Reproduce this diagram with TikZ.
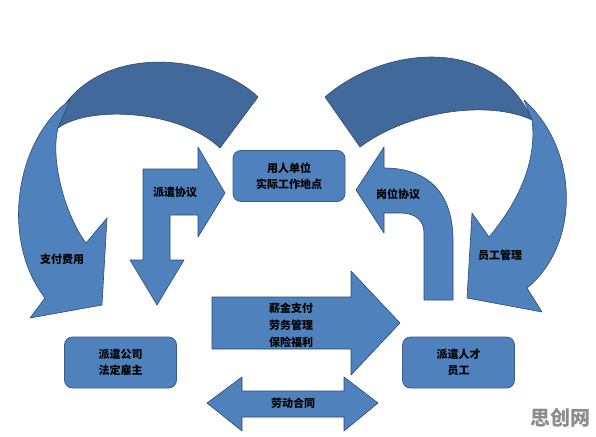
\documentclass[tikz,border=0pt]{standalone}
\usepackage{fontspec}
\setmainfont{Noto Sans CJK SC}
\definecolor{lightblue}{HTML}{4F81BD}
\definecolor{darkblue}{HTML}{41699B}
\definecolor{edgeblue}{HTML}{2A4A70}
\definecolor{boxedge}{HTML}{385D8A}
\definecolor{wmgray}{HTML}{8C8C8C}
\tikzset{
  frontfill/.style={fill=lightblue, draw=edgeblue, line width=0.6pt, line join=round},
  backfill/.style={fill=darkblue, draw=edgeblue, line width=0.6pt, line join=round},
  boxnode/.style={fill=lightblue, draw=boxedge, line width=0.8pt, rounded corners=8pt,
    minimum width=112pt, minimum height=51pt, inner sep=0pt, align=center,
    font=\bfseries\fontsize{11}{16}\selectfont},
  lbl/.style={align=center, inner sep=0pt, font=\bfseries\fontsize{11}{17}\selectfont}
}
\begin{document}
\begin{tikzpicture}[x=1pt,y=-1pt]
\useasboundingbox (0,0) rectangle (596,436);

% left curved arrow, back part
\draw[backfill] (258,97) .. controls (215,55) and (100,40) .. (58,115)
  -- (58,128) .. controls (90,105) and (180,110) .. (220,148) -- cycle;
% left curved arrow, front part
\draw[frontfill] (58,128) -- (70,100) .. controls (15,140) and (0,240) .. (45,298)
  -- (30,318) -- (102,305) -- (107,218) -- (86,243)
  .. controls (65,215) and (50,160) .. (58,128) -- cycle;

% right curved arrow, back part
\draw[backfill] (325,97) .. controls (385,45) and (495,35) .. (532,120)
  .. controls (490,100) and (410,110) .. (360,147) -- cycle;
% right curved arrow, front part
\draw[frontfill] (524,100) .. controls (580,150) and (580,245) .. (527,288)
  -- (542,312) -- (467,298) -- (472,213) -- (489,237)
  .. controls (520,200) and (537,160) .. (532,120) -- cycle;

% L arrow (派遣协议)
\draw[frontfill] (143,169) -- (198,169) -- (198,147) -- (225,193) -- (198,237)
  -- (198,215) -- (170,215) -- (170,260) -- (184,260) -- (157,305) -- (130,260)
  -- (143,260) -- cycle;

% bent up arrow (岗位协议)
\draw[frontfill] (356,190) -- (384,147) -- (384,168)
  .. controls (430,168) and (453,195) .. (453,240) -- (453,300) -- (424,300)
  -- (424,233) .. controls (424,220) and (415,213) .. (400,213) -- (384,213)
  -- (384,233) -- cycle;

% right arrow (薪金支付)
\draw[frontfill] (212,297) -- (351,297) -- (351,271) -- (400,323) -- (351,375)
  -- (351,349) -- (212,349) -- cycle;

% double arrow (劳动合同)
\draw[frontfill] (207,403) -- (242,377) -- (242,391) -- (344,391) -- (344,377)
  -- (378,403) -- (344,431) -- (344,417) -- (242,417) -- (242,431) -- cycle;

% boxes
\node[boxnode] (user) at (289,176) {用人单位\\实际工作地点};
\node[boxnode] (agency) at (120.5,362.5) {派遣公司\\法定雇主};
\node[boxnode] (staff) at (458.5,362.5) {派遣人才\\员工};

% labels
\node[lbl] (l1) at (175,192) {派遣协议};
\node[lbl] (l2) at (62,259) {支付费用};
\node[lbl] (l3) at (398,194) {岗位协议};
\node[lbl] (l4) at (500,255) {员工管理};
\node[lbl] (l5) at (291,325) {薪金支付\\劳务管理\\保险福利};
\node[lbl] (l6) at (293,403) {劳动合同};
\node[font=\bfseries\fontsize{20}{22}\selectfont, text=wmgray, inner sep=0pt] (wm) at (560,418) {思创网};
\end{tikzpicture}
\end{document}
